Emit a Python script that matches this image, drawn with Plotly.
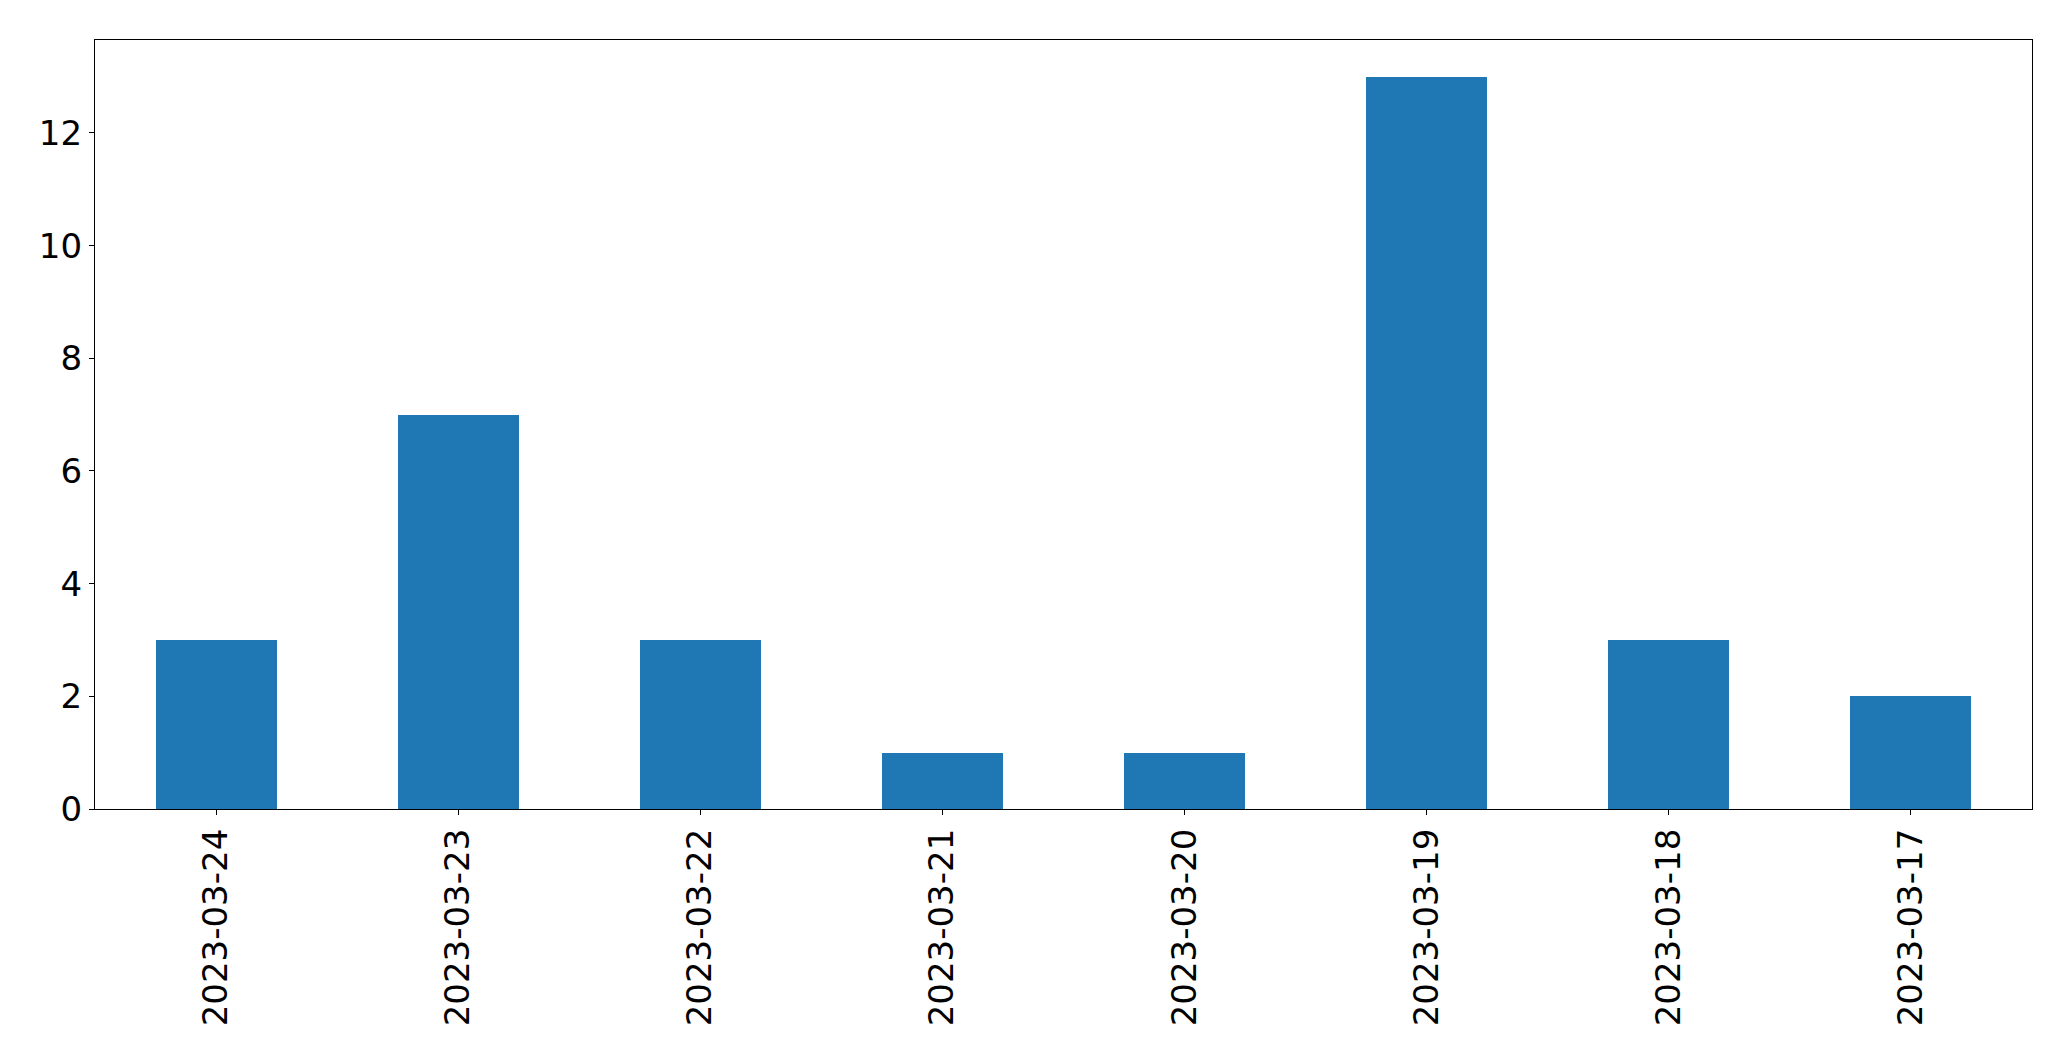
import plotly.graph_objects as go

categories = ["2023-03-24", "2023-03-23", "2023-03-22", "2023-03-21",
              "2023-03-20", "2023-03-19", "2023-03-18", "2023-03-17"]
counts = [3, 7, 3, 1, 1, 13, 3, 2]
y_ticks = [0, 2, 4, 6, 8, 10, 12]

fig = go.Figure()
fig.add_trace(go.Bar(x=categories, y=counts, marker_color="#1f77b4",
                     marker_line_width=0, marker_line_color="#1f77b4", width=0.5))

fig.update_layout(
    width=2071, height=1061,
    margin=dict(l=94.5, r=38.5, t=39.5, b=252),
    paper_bgcolor="white", plot_bgcolor="white",
    font=dict(family="DejaVu Sans", size=34, color="black"),
    showlegend=False,
    bargap=0,
)
fig.update_xaxes(
    type="category", range=[-0.5, 7.5], tickangle=-90,
    ticks="outside", ticklen=5, tickwidth=1.3, tickcolor="black",
    showline=True, linecolor="black", linewidth=1.3, mirror=True,
    showgrid=False, zeroline=False,
)
fig.update_yaxes(
    range=[0, 13.65], tickvals=y_ticks,
    ticks="outside", ticklen=5, tickwidth=1.3, tickcolor="black",
    showline=True, linecolor="black", linewidth=1.3, mirror=True,
    showgrid=False, zeroline=False,
)
fig.write_html("out.html", config={"displayModeBar": False},
               post_script="document.body.style.margin='0';document.body.style.padding='0';")
